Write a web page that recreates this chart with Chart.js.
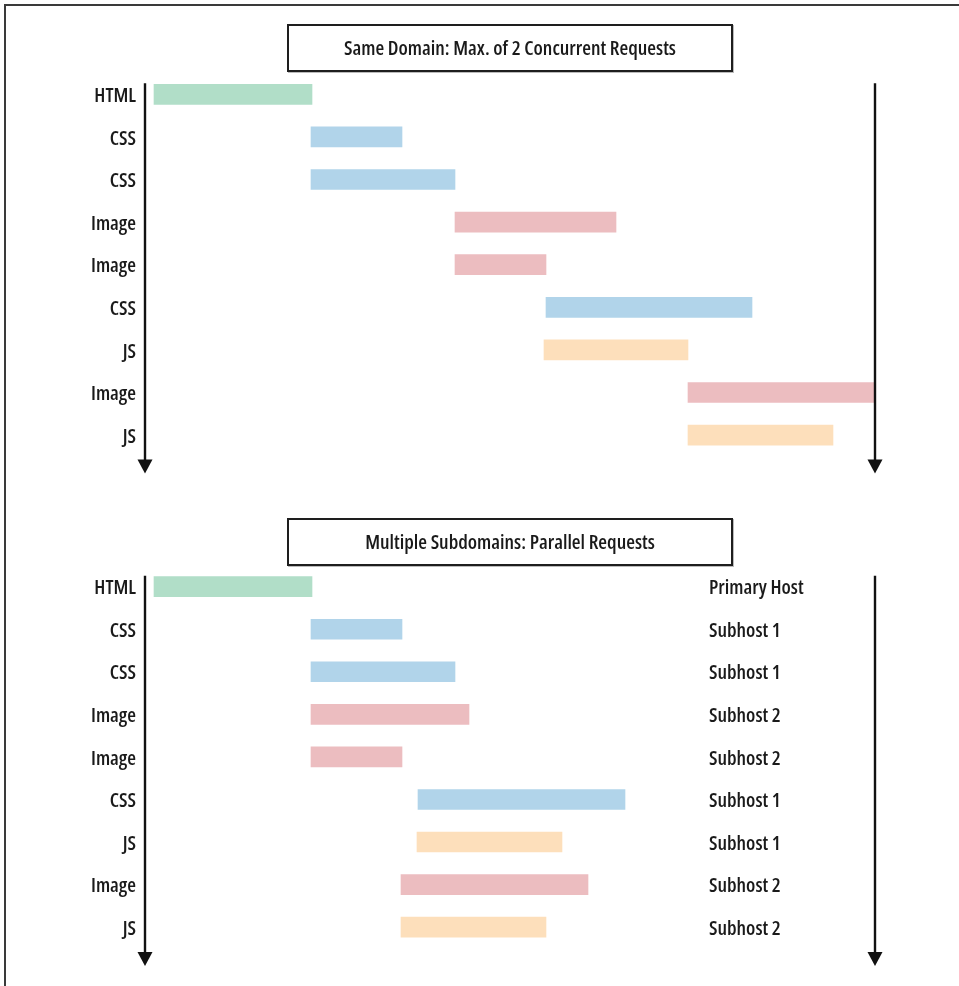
<!DOCTYPE html>
<html>
<head>
<meta charset="utf-8">
<script src="https://cdn.jsdelivr.net/npm/chart.js@4/dist/chart.umd.min.js"></script>
<style>
  html, body { margin: 0; padding: 0; background: #fff; }
  #wrap { position: relative; width: 959px; height: 986px; overflow: hidden; background: #fff; }
  #frame { position: absolute; left: 4px; top: 4px; width: 960px; height: 990px;
           border-left: 2px solid #3a3a3a; border-top: 2px solid #3a3a3a; box-sizing: border-box; }
  .titlebox { position: absolute; left: 287px; width: 446px; height: 48px; box-sizing: border-box;
              border: 2px solid #1e1e1e; box-shadow: 1px 1px 0 #bbb;
              font-family: "Open Sans", sans-serif; font-stretch: condensed; font-weight: 600;
              font-size: 20px; color: #1a1a1a; text-align: center; line-height: 43px; }
  canvas { position: absolute; left: 0; }
</style>
</head>
<body>
<div id="wrap">
  <div id="frame"></div>
  <canvas id="c1" width="959" height="493" style="top:0px"></canvas>
  <canvas id="c2" width="959" height="493" style="top:493px"></canvas>
  <div class="titlebox" style="top:24px">Same Domain: Max. of 2 Concurrent Requests</div>
  <div class="titlebox" style="top:518px">Multiple Subdomains: Parallel Requests</div>
</div>
<script>
// ---- data ----
const categories = ["HTML", "CSS", "CSS", "Image", "Image", "CSS", "JS", "Image", "JS"];
const sameDomainStart = [0.9, 16.6, 16.6, 31.0, 31.0, 40.1, 39.9, 54.3, 54.3];
const sameDomainEnd   = [16.7, 25.7, 31.0, 47.1, 40.1, 60.7, 54.3, 73.0, 68.8];
const subdomainStart  = [0.9, 16.6, 16.6, 16.6, 16.6, 27.3, 27.2, 25.6, 25.6];
const subdomainEnd    = [16.7, 25.7, 31.0, 32.4, 25.7, 48.0, 41.7, 44.3, 40.1];
const hosts = ["Primary Host", "Subhost 1", "Subhost 1", "Subhost 2", "Subhost 2", "Subhost 1", "Subhost 1", "Subhost 2", "Subhost 2"];
const timeMin = 0;
const timeMax = 73;

// ---- style ----
const typeColors = { HTML: "#b1dec8", CSS: "#b1d4ea", Image: "#ecbdc0", JS: "#fddfbb" };
const FAMILY = "'Open Sans', sans-serif";
const WEIGHT = "condensed 600";   // font-stretch + weight, goes into the canvas font shorthand
const SIZE = 20;
const TEXT = "#1a1a1a";

const arrowAxes = {
  id: "arrowAxes",
  afterDatasetsDraw(chart, args, opts) {
    const { ctx, scales: { x, y } } = chart;
    const top = y.getPixelForValue(0) - 11;
    const tip = y.getPixelForValue(categories.length - 1) + opts.tipGap;
    [x.getPixelForValue(timeMin), x.getPixelForValue(timeMax)].forEach(px => {
      ctx.save();
      ctx.strokeStyle = "#111";
      ctx.lineWidth = 2.4;
      ctx.beginPath();
      ctx.moveTo(px, top);
      ctx.lineTo(px, tip - 10);
      ctx.stroke();
      ctx.fillStyle = "#111";
      ctx.beginPath();
      ctx.moveTo(px - 7.5, tip - 14);
      ctx.lineTo(px + 7.5, tip - 14);
      ctx.lineTo(px, tip);
      ctx.closePath();
      ctx.fill();
      ctx.restore();
    });
  }
};

const hostLabels = {
  id: "hostLabels",
  afterDatasetsDraw(chart, args, opts) {
    if (!opts.labels) return;
    const { ctx, chartArea, scales: { y } } = chart;
    ctx.save();
    ctx.font = WEIGHT + " " + SIZE + "px " + FAMILY;
    ctx.fillStyle = TEXT;
    ctx.textAlign = "left";
    ctx.textBaseline = "middle";
    opts.labels.forEach((t, i) => {
      ctx.fillText(t, chartArea.right - opts.offset, y.getPixelForValue(i) + opts.dy);
    });
    ctx.restore();
  }
};

function makeChart(id, starts, ends, padTop, padBottom, tipGap, extraLabels) {
  return new Chart(document.getElementById(id), {
    type: "bar",
    data: {
      labels: categories,
      datasets: [{
        data: starts.map((s, i) => [s, ends[i]]),
        backgroundColor: categories.map(c => typeColors[c]),
        borderWidth: 0,
        barThickness: 20
      }]
    },
    options: {
      indexAxis: "y",
      responsive: false,
      animation: false,
      devicePixelRatio: 1,
      layout: { padding: { top: padTop, bottom: padBottom, left: 0, right: 84 } },
      scales: {
        x: { type: "linear", min: timeMin, max: timeMax, display: false },
        y: {
          type: "category",
          offset: true,
          grid: { display: false, drawTicks: false },
          border: { display: false },
          ticks: {
            padding: 9,
            labelOffset: 2,
            color: TEXT,
            font: { family: FAMILY, size: SIZE, weight: WEIGHT }
          },
          afterFit(scale) { scale.width = 145; }
        }
      },
      plugins: {
        legend: { display: false },
        tooltip: { enabled: false },
        title: { display: false },
        arrowAxes: { tipGap: tipGap },
        hostLabels: extraLabels
      }
    },
    plugins: [arrowAxes, hostLabels]
  });
}

makeChart("c1", sameDomainStart, sameDomainEnd, 73, 36.6, 38.5, {});
makeChart("c2", subdomainStart, subdomainEnd, 72.4, 37.6, 39, { labels: hosts, offset: 166, dy: 2 });
</script>
</body>
</html>
